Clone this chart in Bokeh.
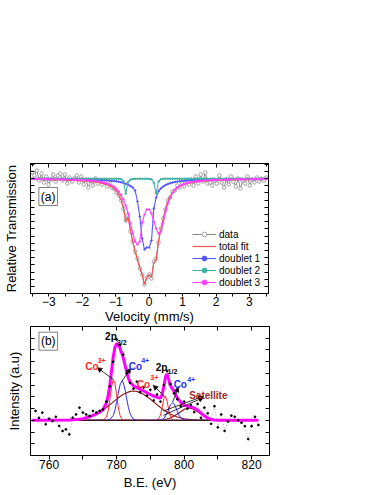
from bokeh.plotting import figure
from bokeh.models import (Range1d, FixedTicker, LinearAxis, Label, Arrow,
                          NormalHead, Legend, LegendItem)
from bokeh.layouts import column
from bokeh.embed import file_html
from bokeh.resources import INLINE

FONT = "Liberation Sans"

# ---------------- panel (a): Mossbauer spectrum ----------------
velocity = [-3.50, -3.43, -3.36, -3.29, -3.22, -3.15, -3.08, -3.01, -2.94, -2.87,
            -2.80, -2.73, -2.66, -2.59, -2.52, -2.45, -2.38, -2.31, -2.24, -2.17,
            -2.10, -2.03, -1.96, -1.89, -1.82, -1.75, -1.68, -1.61, -1.54, -1.47,
            -1.40, -1.33, -1.26, -1.19, -1.12, -1.05, -0.98, -0.91, -0.84, -0.77,
            -0.70, -0.63, -0.56, -0.49, -0.42, -0.35, -0.28, -0.21, -0.14, -0.07,
            0.00, 0.07, 0.14, 0.21, 0.28, 0.35, 0.42, 0.49, 0.56, 0.63,
            0.70, 0.77, 0.84, 0.91, 0.98, 1.05, 1.12, 1.19, 1.26, 1.33,
            1.40, 1.47, 1.54, 1.61, 1.68, 1.75, 1.82, 1.89, 1.96, 2.03,
            2.10, 2.17, 2.24, 2.31, 2.38, 2.45, 2.52, 2.59, 2.66, 2.73,
            2.80, 2.87, 2.94, 3.01, 3.08, 3.15, 3.22, 3.29, 3.36, 3.43, 3.50]

data_a = [1.006, 1.003, 1.008, 0.998, 1.005, 0.996, 1.002, 0.994, 0.999, 1.004,
          0.997, 1.003, 1.005, 0.998, 1.004, 0.995, 1.001, 0.997, 1.000, 1.003,
          0.996, 1.002, 0.994, 0.999, 0.991, 0.998, 0.993, 1.000, 0.995, 0.998,
          0.994, 0.997, 0.992, 0.995, 0.991, 0.990, 0.986, 0.983, 0.978, 0.970,
          0.958, 0.963, 0.947, 0.937, 0.927, 0.920, 0.910, 0.904, 0.894, 0.901,
          0.904, 0.900, 0.917, 0.920, 0.936, 0.950, 0.960, 0.969, 0.978, 0.981,
          0.987, 0.988, 0.993, 0.991, 0.996, 0.992, 0.998, 0.994, 0.999, 0.993,
          1.002, 0.995, 1.004, 0.997, 1.006, 0.995, 0.996, 0.993, 0.998, 0.995,
          1.003, 0.996, 0.991, 0.999, 0.994, 1.002, 0.997, 0.992, 1.000, 0.990,
          0.998, 0.995, 1.002, 0.993, 0.999, 0.996, 1.001, 0.997, 1.000, 0.998, 1.001]

total_fit = [0.9991, 0.9991, 0.9990, 0.9990, 0.9990, 0.9989, 0.9989, 0.9988, 0.9988, 0.9987,
             0.9987, 0.9986, 0.9985, 0.9985, 0.9984, 0.9983, 0.9982, 0.9981, 0.9980, 0.9979,
             0.9978, 0.9976, 0.9975, 0.9973, 0.9971, 0.9969, 0.9966, 0.9963, 0.9960, 0.9955,
             0.9950, 0.9944, 0.9937, 0.9928, 0.9915, 0.9900, 0.9875, 0.9835, 0.9790, 0.9710,
             0.9570, 0.9610, 0.9490, 0.9370, 0.9270, 0.9190, 0.9110, 0.9040, 0.8940, 0.9010,
             0.9040, 0.9010, 0.9160, 0.9180, 0.9380, 0.9490, 0.9590, 0.9700, 0.9770, 0.9825,
             0.9860, 0.9885, 0.9905, 0.9920, 0.9930, 0.9940, 0.9947, 0.9953, 0.9958, 0.9962,
             0.9965, 0.9968, 0.9970, 0.9972, 0.9974, 0.9976, 0.9978, 0.9979, 0.9980, 0.9981,
             0.9982, 0.9983, 0.9984, 0.9985, 0.9986, 0.9986, 0.9987, 0.9987, 0.9988, 0.9988,
             0.9989, 0.9989, 0.9990, 0.9990, 0.9990, 0.9990, 0.9991, 0.9991, 0.9991, 0.9991, 0.9991]

doublet1 = [0.9996, 0.9996, 0.9995, 0.9995, 0.9995, 0.9995, 0.9995, 0.9995, 0.9994, 0.9994,
            0.9994, 0.9994, 0.9993, 0.9993, 0.9993, 0.9993, 0.9992, 0.9992, 0.9992, 0.9991,
            0.9991, 0.9990, 0.9990, 0.9989, 0.9989, 0.9988, 0.9987, 0.9987, 0.9986, 0.9985,
            0.9984, 0.9982, 0.9981, 0.9979, 0.9976, 0.9974, 0.9971, 0.9967, 0.9962, 0.9956,
            0.9948, 0.9938, 0.9925, 0.9910, 0.9880, 0.9770, 0.9620, 0.9400, 0.9290, 0.9310,
            0.9310, 0.9380, 0.9700, 0.9810, 0.9875, 0.9900, 0.9920, 0.9935, 0.9945, 0.9953,
            0.9960, 0.9965, 0.9969, 0.9973, 0.9976, 0.9978, 0.9980, 0.9982, 0.9984, 0.9985,
            0.9986, 0.9987, 0.9988, 0.9988, 0.9989, 0.9990, 0.9990, 0.9991, 0.9991, 0.9991,
            0.9992, 0.9992, 0.9993, 0.9993, 0.9993, 0.9993, 0.9994, 0.9994, 0.9994, 0.9994,
            0.9994, 0.9995, 0.9995, 0.9995, 0.9995, 0.9995, 0.9995, 0.9996, 0.9996, 0.9996, 0.9996]

doublet2 = [0.9998, 0.9998, 0.9998, 0.9998, 0.9998, 0.9998, 0.9998, 0.9998, 0.9998, 0.9998,
            0.9998, 0.9998, 0.9998, 0.9998, 0.9998, 0.9998, 0.9998, 0.9998, 0.9998, 0.9998,
            0.9998, 0.9998, 0.9998, 0.9998, 0.9998, 0.9998, 0.9998, 0.9998, 0.9998, 0.9998,
            0.9998, 0.9998, 0.9998, 0.9998, 0.9998, 0.9998, 0.9998, 0.9997, 0.9995, 0.9975,
            0.9850, 0.9965, 0.9990, 0.9996, 0.9997, 0.9997, 0.9997, 0.9997, 0.9997, 0.9997,
            0.9996, 0.9992, 0.9955, 0.9850, 0.9970, 0.9992, 0.9996, 0.9997, 0.9998, 0.9998,
            0.9998, 0.9998, 0.9998, 0.9998, 0.9998, 0.9998, 0.9998, 0.9998, 0.9998, 0.9998,
            0.9998, 0.9998, 0.9998, 0.9998, 0.9998, 0.9998, 0.9998, 0.9998, 0.9998, 0.9998,
            0.9998, 0.9998, 0.9998, 0.9998, 0.9998, 0.9998, 0.9998, 0.9998, 0.9998, 0.9998,
            0.9998, 0.9998, 0.9998, 0.9998, 0.9998, 0.9998, 0.9998, 0.9998, 0.9998, 0.9998, 0.9998]

doublet3 = [0.9996, 0.9996, 0.9996, 0.9995, 0.9995, 0.9995, 0.9994, 0.9994, 0.9994, 0.9993,
            0.9993, 0.9992, 0.9992, 0.9991, 0.9991, 0.9990, 0.9990, 0.9989, 0.9988, 0.9987,
            0.9986, 0.9985, 0.9984, 0.9982, 0.9981, 0.9979, 0.9977, 0.9974, 0.9971, 0.9967,
            0.9963, 0.9957, 0.9950, 0.9941, 0.9930, 0.9915, 0.9895, 0.9870, 0.9835, 0.9790,
            0.9730, 0.9650, 0.9550, 0.9450, 0.9370, 0.9340, 0.9370, 0.9560, 0.9640, 0.9690,
            0.9690, 0.9650, 0.9570, 0.9500, 0.9450, 0.9470, 0.9560, 0.9670, 0.9750, 0.9810,
            0.9855, 0.9885, 0.9910, 0.9925, 0.9937, 0.9946, 0.9953, 0.9959, 0.9964, 0.9968,
            0.9971, 0.9974, 0.9976, 0.9978, 0.9980, 0.9981, 0.9983, 0.9984, 0.9985, 0.9986,
            0.9987, 0.9988, 0.9989, 0.9989, 0.9990, 0.9990, 0.9991, 0.9991, 0.9992, 0.9992,
            0.9992, 0.9993, 0.9993, 0.9993, 0.9994, 0.9994, 0.9994, 0.9994, 0.9995, 0.9995, 0.9995]

vel_ticks = [-3, -2, -1, 0, 1, 2, 3]
vel_minor = [-3.5, -2.5, -1.5, -0.5, 0.5, 1.5, 2.5, 3.5]

# ---------------- panel (b): XPS Co 2p ----------------
be_data = [756, 757, 758, 759, 760, 761, 762, 763, 764, 765,
           766, 767, 768, 769, 770, 771, 772, 773, 774, 775,
           776, 777, 778, 779, 780, 781, 782, 783, 784, 785,
           786, 787, 788, 789, 790, 791, 792, 793, 794, 795,
           796, 797, 798, 799, 800, 801, 802, 803, 804, 805,
           806, 807, 808, 809, 810, 811, 812, 813, 814, 815,
           816, 817, 818, 819, 820, 821, 822]
int_data = [0.80, 0.20, 0.66, -0.34, 0.14, -0.06, 0.30, -0.48, -0.91, -0.77,
            -1.20, 0.23, 0.50, 1.08, 0.66, 0.50, 0.37, 0.80, 0.66, 0.80,
            0.94, 1.60, 2.90, 5.00, 6.90, 6.40, 5.60, 4.00, 3.20, 2.70,
            3.30, 2.40, 2.80, 2.10, 2.60, 1.70, 2.20, 1.60, 3.00, 4.20,
            3.10, 2.30, 1.80, 1.20, 1.60, 1.00, 1.30, 0.70, 1.40, 0.20,
            1.08, 0.60, -0.30, 1.20, -0.60, 0.50, -0.90, -0.10, 0.40, 0.30,
            0.00, -0.20, -0.50, -1.60, -0.50, 0.30, -0.40]

env_e = [755, 766, 768, 770, 772, 774, 775, 776, 777, 777.5,
         778, 778.5, 779, 779.5, 780, 780.5, 781, 781.5, 782, 782.5,
         783, 783.5, 784, 785, 786, 788, 790, 792, 793, 793.5,
         794, 794.5, 794.9, 795.3, 795.8, 796.5, 797, 797.5, 798, 799,
         800, 801, 802, 803, 804, 805, 806, 807, 808, 809, 810, 822]
env_i = [0, 0.02, 0.06, 0.14, 0.30, 0.55, 0.70, 0.92, 1.50, 2.10,
         3.00, 4.20, 5.40, 6.20, 6.55, 6.45, 6.15, 5.75, 5.30, 4.70,
         4.10, 3.60, 3.25, 2.95, 2.78, 2.50, 2.20, 1.95, 1.90, 2.20,
         2.90, 3.70, 3.95, 3.65, 3.05, 2.70, 2.50, 2.20, 1.90, 1.55,
         1.30, 1.20, 1.15, 1.05, 0.88, 0.62, 0.38, 0.20, 0.08, 0.02, 0, 0]

co3_32_e = [756, 774, 776, 777, 777.5, 778, 778.5, 779, 779.5, 780, 780.5, 781, 781.5, 782, 784, 811]
co3_32_i = [0, 0, 0.02, 0.27, 0.80, 1.74, 2.84, 3.48, 3.19, 2.19, 1.13, 0.43, 0.13, 0.03, 0, 0]

co4_32_e = [756, 777, 778, 779, 779.5, 780, 780.5, 781, 781.6, 782, 782.5, 783, 783.5, 784, 785, 786, 811]
co4_32_i = [0, 0, 0.06, 0.41, 0.86, 1.52, 2.31, 3.00, 3.36, 3.20, 2.61, 1.83, 1.10, 0.56, 0.09, 0, 0]

sat1_e = [756, 762, 766, 768, 770, 772, 774, 776, 778, 780,
          782, 784, 785, 786, 788, 790, 792, 794, 796, 798,
          800, 802, 804, 808, 811]
sat1_i = [0, 0, 0.02, 0.06, 0.13, 0.28, 0.52, 0.87, 1.32, 1.81,
          2.22, 2.47, 2.50, 2.47, 2.22, 1.81, 1.32, 0.87, 0.52, 0.28,
          0.13, 0.06, 0.02, 0, 0]

co3_12_e = [756, 791, 792, 792.5, 793, 793.5, 794, 794.4, 795, 795.5, 796, 796.5, 797, 798, 811]
co3_12_i = [0, 0, 0.02, 0.13, 0.45, 1.11, 1.85, 2.10, 1.59, 0.81, 0.28, 0.07, 0.01, 0, 0]

co4_12_e = [756, 792, 793, 794, 795, 795.5, 796, 796.6, 797, 797.5, 798, 798.5, 799, 800, 801, 811]
co4_12_i = [0, 0, 0.02, 0.14, 0.62, 0.98, 1.32, 1.50, 1.42, 1.13, 0.76, 0.43, 0.20, 0.03, 0, 0]

sat2_e = [756, 790, 792, 794, 796, 798, 800, 801.5, 803, 805, 807, 809, 811, 813, 822]
sat2_i = [0, 0, 0.01, 0.05, 0.20, 0.53, 0.93, 1.05, 0.93, 0.53, 0.20, 0.05, 0.01, 0, 0]

baseline_e = [756, 811]
baseline_i = [0, 0]

be_ticks = [760, 780, 800, 820]
be_minor = [770, 790, 810]
int_ticks = [-2, -1, 0, 1, 2, 3, 4, 5, 6, 7]


def frame_style(p):
    p.outline_line_color = "black"
    p.outline_line_width = 1
    p.xgrid.visible = False
    p.ygrid.visible = False
    p.border_fill_color = "white"
    p.background_fill_color = "white"


def tick_style(ax, tick_in, tick_out, minor_in, minor_out, show_labels):
    ax.axis_line_color = "black"
    ax.major_tick_line_color = "black"
    ax.minor_tick_line_color = "black"
    ax.major_tick_in = tick_in
    ax.major_tick_out = tick_out
    ax.minor_tick_in = minor_in
    ax.minor_tick_out = minor_out
    ax.major_label_text_font = FONT
    ax.axis_label_text_font = FONT
    ax.axis_label_text_font_style = "normal"
    ax.axis_label_text_font_size = "13px"
    ax.axis_label_text_color = "black"
    if show_labels:
        ax.major_label_text_color = "black"
        ax.major_label_text_font_size = "12px"
        ax.major_label_standoff = 0
    else:
        ax.major_label_text_color = None
        ax.major_label_text_font_size = "0px"
        ax.major_label_standoff = 0


# ---------- figure (a) ----------
a_yticks = [round(1.0 + 0.0072 * k, 4) for k in range(-15, 3)]

pa = figure(frame_width=238, frame_height=130,
            x_range=Range1d(-3.55, 3.57), y_range=Range1d(0.885, 1.015),
            output_backend="svg", toolbar_location=None,
            min_border_top=163, min_border_left=28, min_border_right=14,
            min_border_bottom=0)
frame_style(pa)

pa.xaxis.ticker = FixedTicker(ticks=vel_ticks, minor_ticks=vel_minor)
pa.xaxis.axis_label = "Velocity (mm/s)"
tick_style(pa.xaxis[0], 0, 3, 0, 3, True)
pa.xaxis.axis_label_standoff = 0

pa.yaxis.ticker = FixedTicker(ticks=a_yticks, minor_ticks=[])
pa.yaxis.axis_label = "Relative Transmission"
tick_style(pa.yaxis[0], 4, 0, 0, 0, False)
pa.yaxis.axis_label_standoff = 12

top_a = LinearAxis(ticker=FixedTicker(ticks=vel_ticks, minor_ticks=vel_minor))
tick_style(top_a, 4, 0, 3, 0, False)
pa.add_layout(top_a, "above")
right_a = LinearAxis(ticker=FixedTicker(ticks=a_yticks, minor_ticks=[]))
tick_style(right_a, 4, 0, 0, 0, False)
pa.add_layout(right_a, "right")

c_data = "#8a8a8a"
c_tot = "#f25555"
c_d1 = "#5555ff"
c_d2 = "#3fb3a3"
c_d3 = "#ff44ff"

r_dl = pa.line(velocity, data_a, line_color=c_data, line_width=1)
r_ds = pa.scatter(velocity, data_a, marker="circle", size=3.5,
                  line_color=c_data, fill_color="white", line_width=0.8)
r_tot = pa.line(velocity, total_fit, line_color=c_tot, line_width=1.2)
r_d1 = pa.line(velocity, doublet1, line_color=c_d1, line_width=1.1)
r_d1s = pa.scatter(velocity, doublet1, marker="circle", size=1.6,
                   line_color=c_d1, fill_color=c_d1)
r_d2 = pa.line(velocity, doublet2, line_color=c_d2, line_width=1.1)
r_d2s = pa.scatter(velocity, doublet2, marker="circle", size=1.6,
                   line_color=c_d2, fill_color=c_d2)
r_d3 = pa.line(velocity, doublet3, line_color=c_d3, line_width=1.1)
r_d3s = pa.scatter(velocity, doublet3, marker="circle", size=1.6,
                   line_color=c_d3, fill_color=c_d3)

legend = Legend(items=[
    LegendItem(label="data", renderers=[r_dl, r_ds]),
    LegendItem(label="total fit", renderers=[r_tot]),
    LegendItem(label="doublet 1", renderers=[r_d1, r_d1s]),
    LegendItem(label="doublet 2", renderers=[r_d2, r_d2s]),
    LegendItem(label="doublet 3", renderers=[r_d3, r_d3s]),
], location=(162, 5))
legend.background_fill_alpha = 0
legend.border_line_alpha = 0
legend.label_text_font = FONT
legend.label_text_font_size = "10px"
legend.label_text_color = "black"
legend.glyph_width = 24
legend.glyph_height = 12
legend.label_height = 12
legend.label_standoff = 3
legend.spacing = 0
legend.padding = 0
legend.margin = 0
pa.add_layout(legend)

pa.add_layout(Label(x=-3.30, y=0.973, text="(a)", text_font=FONT,
                    text_font_size="12px", text_color="black",
                    text_baseline="bottom", text_align="left",
                    border_line_color="#808080", border_line_width=1,
                    background_fill_color="white", padding=2))

# ---------- figure (b) ----------
pb = figure(frame_width=239, frame_height=129,
            x_range=Range1d(754.5, 825.3), y_range=Range1d(-3, 8),
            output_backend="svg", toolbar_location=None,
            min_border_top=0, min_border_left=28, min_border_right=14,
            min_border_bottom=0)
frame_style(pb)

pb.xaxis.ticker = FixedTicker(ticks=be_ticks, minor_ticks=be_minor)
pb.xaxis.axis_label = "B.E. (eV)"
tick_style(pb.xaxis[0], 0, 4, 0, 4, True)
pb.xaxis.axis_label_standoff = 3

pb.yaxis.ticker = FixedTicker(ticks=int_ticks, minor_ticks=[])
pb.yaxis.axis_label = "Intensity (a.u)"
tick_style(pb.yaxis[0], 4, 0, 0, 0, False)
pb.yaxis.axis_label_standoff = 9

top_b = LinearAxis(ticker=FixedTicker(ticks=be_ticks, minor_ticks=be_minor))
tick_style(top_b, 4, 0, 4, 0, False)
pb.add_layout(top_b, "above")
right_b = LinearAxis(ticker=FixedTicker(ticks=int_ticks, minor_ticks=[]))
tick_style(right_b, 4, 0, 0, 0, False)
pb.add_layout(right_b, "right")

c_red = "#ff2a2a"
c_blue = "#2a2aff"
c_sat = "#8b1c1c"
c_mag = "#ff00ff"

pb.line(be_data, int_data, line_color="#a0a0a0", line_width=0.8, line_dash="1 2")
pb.line(sat1_e, sat1_i, line_color=c_sat, line_width=1.2)
pb.line(sat2_e, sat2_i, line_color=c_sat, line_width=1.2)
pb.line(co3_32_e, co3_32_i, line_color=c_red, line_width=1)
pb.line(co3_12_e, co3_12_i, line_color=c_red, line_width=1)
pb.line(co4_32_e, co4_32_i, line_color=c_blue, line_width=1)
pb.line(co4_12_e, co4_12_i, line_color=c_blue, line_width=1)
pb.line(baseline_e, baseline_i, line_color="#3a1a1a", line_width=1.2)
pb.line(env_e, env_i, line_color=c_mag, line_width=3)
pb.scatter(be_data, int_data, marker="circle", size=1.8,
           line_color="black", fill_color="black")

# arrows from peaks to labels
arrows = [((779.0, 3.5), (774.2, 4.5)),
          ((781.5, 3.3), (784.2, 4.45)),
          ((794.0, 2.1), (790.8, 3.0)),
          ((796.6, 1.55), (798.3, 2.85)),
          ((793.9, 0.8), (805.8, 2.05)),
          ((793.9, 0.43), (805.8, 1.95))]
for (xs, ys), (xe, ye) in arrows:
    pb.add_layout(Arrow(x_start=xs, y_start=ys, x_end=xe, y_end=ye,
                        line_color="black", line_width=0.8,
                        end=NormalHead(size=5, fill_color="black",
                                       line_color="black", line_width=0.5)))

texts = [("2p", 776.6, 7.18, "black", "10px"),
         ("3/2", 780.1, 6.67, "black", "7px"),
         ("Co", 770.7, 4.62, c_red, "10px"),
         ("3+", 774.4, 5.13, c_red, "7px"),
         ("Co", 783.6, 4.62, c_blue, "10px"),
         ("4+", 787.3, 5.13, c_blue, "7px"),
         ("2p", 791.6, 4.49, "black", "10px"),
         ("1/2", 795.1, 4.19, "black", "7px"),
         ("Co", 786.0, 3.08, c_red, "10px"),
         ("3+", 790.0, 3.68, c_red, "7px"),
         ("Co", 796.9, 3.08, c_blue, "10px"),
         ("4+", 800.9, 3.46, c_blue, "7px"),
         ("Satellite", 801.5, 2.14, "#9c2a2a", "10px")]
for t, x, y, c, s in texts:
    pb.add_layout(Label(x=x, y=y, text=t, text_font=FONT, text_font_size=s,
                        text_font_style="bold", text_color=c,
                        text_baseline="alphabetic", text_align="left"))

pb.add_layout(Label(x=757.0, y=5.98, text="(b)", text_font=FONT,
                    text_font_size="12px", text_color="black",
                    text_baseline="bottom", text_align="left",
                    border_line_color="#808080", border_line_width=1,
                    background_fill_color="white", padding=2))

layout = column(pa, pb, spacing=0)
open("out.html", "w").write(file_html(layout, INLINE))
